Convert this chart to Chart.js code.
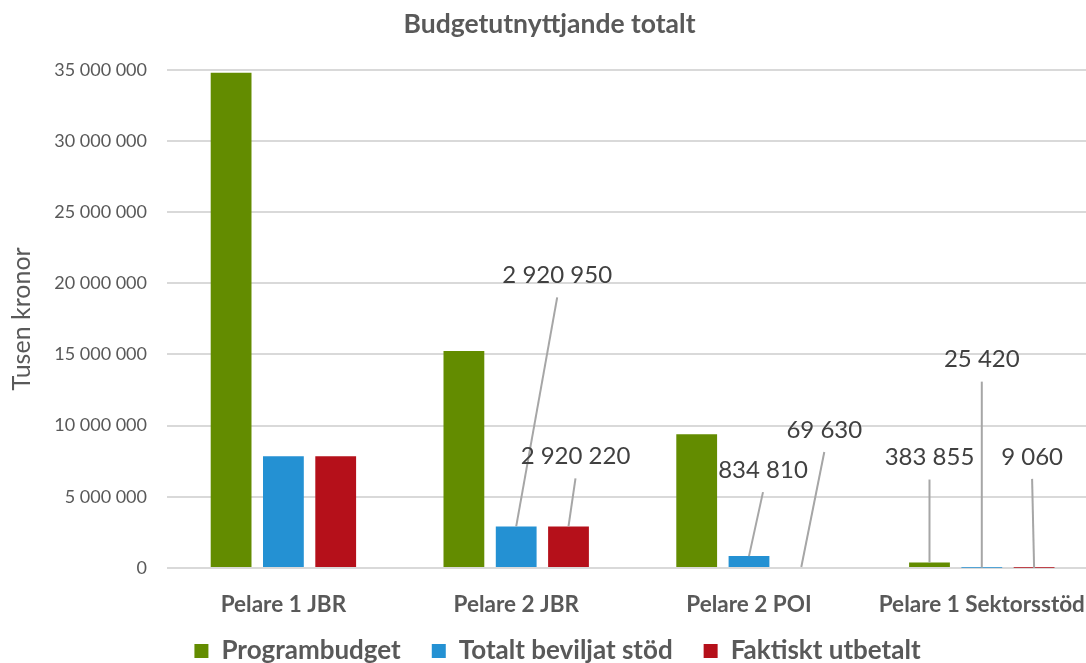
<!DOCTYPE html>
<html>
<head>
<meta charset="utf-8">
<script src="https://cdn.jsdelivr.net/npm/chart.js@4/dist/chart.umd.min.js"></script>
<style>
  html, body { margin: 0; padding: 0; background: #fff; overflow: hidden; }
  #wrap { position: absolute; left: 0; top: 0; width: 1100px; height: 663px; }
</style>
</head>
<body>
<div id="wrap"><canvas id="c1" width="1100" height="663"></canvas></div>
<script>
// data (tusen kronor)
const categories = ["Pelare 1 JBR", "Pelare 2 JBR", "Pelare 2 POI", "Pelare 1 Sektorsstöd"];
const programbudget = [34800000, 15250000, 9400000, 383855];
const beviljat = [7850000, 2920950, 834810, 25420];
const utbetalt = [7850000, 2920220, 69630, 9060];
const seriesNames = ["Programbudget", "Totalt beviljat stöd", "Faktiskt utbetalt"];

// labels with leader lines: [dataset, category, dx, dy] from the bar top
const labelOffsets = [
  [1, 1, 41, -251],
  [2, 1, 7, -70],
  [1, 2, 14, -86],
  [2, 2, 23, -137],
  [0, 3, 0, -105],
  [1, 3, 0, -208],
  [2, 3, -2, -111]
];

function fmt(v) {
  return String(Math.round(v)).replace(/\B(?=(\d{3})+(?!\d))/g, " ");
}

const leaderLabels = {
  id: "leaderLabels",
  afterDatasetsDraw(chart) {
    const ctx = chart.ctx;
    ctx.save();
    labelOffsets.forEach(function (l) {
      const el = chart.getDatasetMeta(l[0]).data[l[1]];
      const val = chart.data.datasets[l[0]].data[l[1]];
      const lx = el.x + l[2];
      const ly = el.y + l[3];
      ctx.strokeStyle = "#a6a6a6";
      ctx.lineWidth = 2;
      ctx.beginPath();
      ctx.moveTo(lx, ly + 22);
      ctx.lineTo(el.x, el.y);
      ctx.stroke();
      ctx.fillStyle = "#404040";
      ctx.font = "24px Lato";
      ctx.textAlign = "center";
      ctx.textBaseline = "middle";
      ctx.fillText(fmt(val), lx, ly);
    });
    ctx.restore();
  }
};

// legend sits a bit right of and lower than the default spot,
// x labels must not be clipped by the thin x scale box
const fixLayout = {
  id: "fixLayout",
  afterLayout(chart) {
    chart.legend.left += 8;
    chart.legend.right += 8;
    chart.legend.top += 11;
    chart.legend.bottom += 11;
    chart.scales.x.bottom = chart.height;
  }
};

var ctx = document.getElementById("c1");
var myChart = new Chart(ctx, {
  type: "bar",
  data: {
    labels: categories,
    datasets: [
      { label: seriesNames[0], data: programbudget, backgroundColor: "#638c00" },
      { label: seriesNames[1], data: beviljat, backgroundColor: "#2491d3" },
      { label: seriesNames[2], data: utbetalt, backgroundColor: "#b5101a" }
    ]
  },
  options: {
    responsive: false,
    animation: false,
    categoryPercentage: 0.674,
    barPercentage: 0.78,
    layout: { padding: { left: 0, right: 1, top: 0, bottom: 0 } },
    plugins: {
      title: {
        display: true,
        text: "Budgetutnyttjande totalt",
        color: "#595959",
        font: { family: "Lato", size: 26.5, weight: "bold" },
        padding: { top: 9, bottom: 29 }
      },
      legend: {
        position: "bottom",
        labels: {
          color: "#595959",
          font: { family: "Lato", size: 26, weight: "bold" },
          boxWidth: 14,
          boxHeight: 14,
          padding: 31
        }
      },
      tooltip: { enabled: false }
    },
    scales: {
      x: {
        grid: { display: false },
        border: { display: false },
        ticks: {
          color: "#595959",
          font: { family: "Lato", size: 22.5, weight: "bold" },
          padding: 15,
          maxRotation: 0
        },
        afterFit: function (scale) { scale.height = 28; }
      },
      y: {
        min: 0,
        max: 35000000,
        grid: { color: "#d9d9d9", lineWidth: 2, drawTicks: false },
        border: { display: false },
        ticks: {
          stepSize: 5000000,
          color: "#595959",
          font: { family: "Lato", size: 18 },
          padding: 20,
          callback: function (v) { return fmt(v); }
        },
        title: {
          display: true,
          text: "Tusen kronor",
          color: "#595959",
          font: { family: "Lato", size: 25 },
          padding: { top: 7, bottom: 0 }
        },
        afterFit: function (scale) { scale.width = 167; }
      }
    }
  },
  plugins: [leaderLabels, fixLayout]
});
</script>
</body>
</html>
